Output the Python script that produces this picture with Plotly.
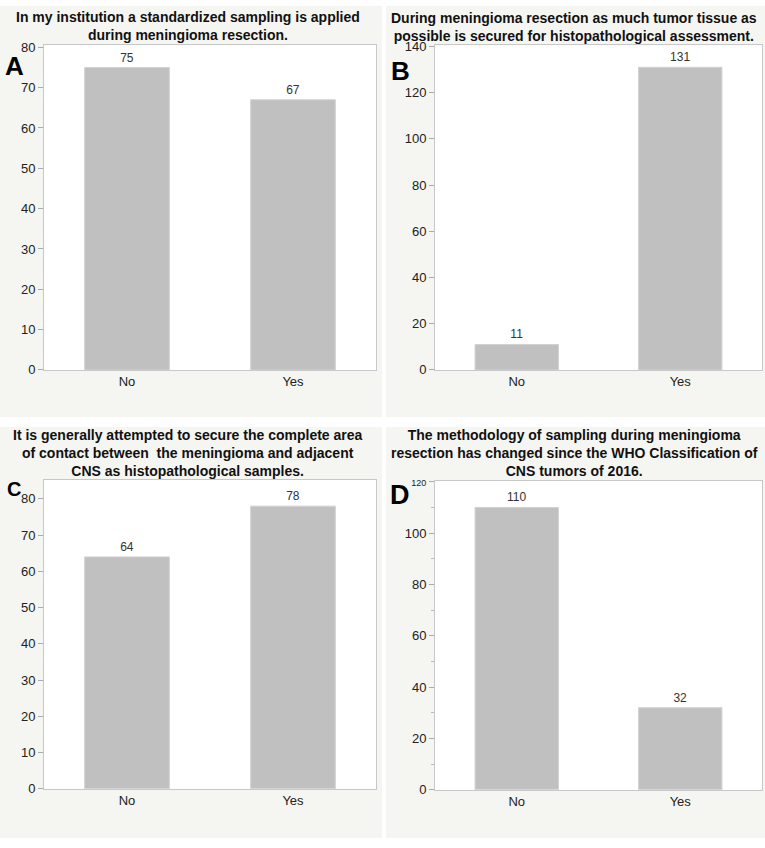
import plotly.graph_objects as go

W, H = 765, 848

categories = ["No", "Yes"]
values_a = [75, 67]
values_b = [11, 131]
values_c = [64, 78]
values_d = [110, 32]

titles = [
    "In my institution a standardized sampling is applied<br>during meningioma resection.",
    "During meningioma resection as much tumor tissue as<br>possible is secured for histopathological assessment.",
    "It is generally attempted to secure the complete area<br>of contact between  the meningioma and adjacent<br>CNS as histopathological samples.",
    "The methodology of sampling during meningioma<br>resection has changed since the WHO Classification of<br>CNS tumors of 2016.",
]
letters = ["A", "B", "C", "D"]
ranges = [[0, 80.5], [0, 140.5], [0, 85.2], [0, 120.3]]
tickvals_list = [[0, 10, 20, 30, 40, 50, 60, 70, 80],
                 [0, 20, 40, 60, 80, 100, 120, 140],
                 [0, 10, 20, 30, 40, 50, 60, 70, 80],
                 [0, 20, 40, 60, 80, 100, 120]]
ticktext_list = [[str(v) for v in tv] for tv in tickvals_list]
ticktext_list[3][-1] = "<span style='font-size:9px'>120</span>"

# pixel layout (x0, x1, ytop, ybottom) of plot areas
plots = [(44, 376, 40, 370), (435, 762, 40, 370), (44, 376, 482, 796), (435, 762, 483, 797)]
panels = [(0, 382, 0, 418), (386, 765, 0, 418), (0, 382, 428, 846), (386, 765, 428, 846)]
title_pos = [(188, 20), (574, 21), (188, 454), (574, 454)]
letter_pos = [(14, 61, 26), (400, 66, 26), (14, 491, 20), (400, 497, 27)]

def px(x):
    return x / W

def py(y):
    return 1 - y / H

fig = go.Figure()
shapes = []
annotations = []
series = [values_a, values_b, values_c, values_d]
for i in range(4):
    n = "" if i == 0 else str(i + 1)
    x0, x1, yt, yb = plots[i]
    fig.add_trace(go.Bar(
        x=categories, y=series[i], xaxis="x" + n, yaxis="y" + n,
        marker=dict(color="#c0c0c0", line=dict(color="#d2d2d2", width=1)),
        text=[str(v) for v in series[i]], textposition="outside",
        outsidetextfont=dict(size=12, color="#333333", family="Liberation Sans, Arial"),
        cliponaxis=False, showlegend=False,
    ))
    yax = dict(domain=[py(yb), py(yt)], range=ranges[i], anchor="x" + n,
               tickmode="array", tickvals=tickvals_list[i], ticktext=ticktext_list[i],
               showgrid=False, zeroline=False, showline=True, linecolor="#c8c8c8", mirror=True,
               ticks="outside", ticklen=5, tickcolor="#aaaaaa",
               tickfont=dict(size=13, color="#222222", family="Liberation Sans, Arial"))
    if i == 3:
        yax["minor"] = dict(ticks="outside", ticklen=3, tickcolor="#bbbbbb", dtick=10, tick0=0)
    xax = dict(domain=[px(x0), px(x1)], anchor="y" + n, showgrid=False, showline=True,
               linecolor="#c8c8c8", mirror=True, ticks="",
               tickfont=dict(size=13, color="#222222", family="Liberation Sans, Arial"))
    fig.update_layout(**{"xaxis" + n: xax, "yaxis" + n: yax})
    p = panels[i]
    shapes.append(dict(type="rect", xref="paper", yref="paper", x0=px(p[0]), x1=px(p[1]),
                       y0=py(p[3]), y1=py(p[2]), fillcolor="#f5f5f1", line=dict(width=0), layer="below"))
    shapes.append(dict(type="rect", xref="paper", yref="paper", x0=px(x0), x1=px(x1),
                       y0=py(yb), y1=py(yt), fillcolor="#ffffff", line=dict(width=0), layer="below"))
    tx, ty = title_pos[i]
    annotations.append(dict(text="<b>" + titles[i] + "</b>", xref="paper", yref="paper",
                            x=px(tx), y=py(ty), xanchor="center", yanchor="middle", showarrow=False,
                            font=dict(size=14, color="#111111", family="Liberation Sans, Arial")))
    lx, ly, ls = letter_pos[i]
    annotations.append(dict(text="<b>" + letters[i] + "</b>", xref="paper", yref="paper",
                            x=px(lx), y=py(ly), xanchor="center", yanchor="middle", showarrow=False,
                            font=dict(size=ls, color="#000000", family="Liberation Sans, Arial")))

fig.update_layout(width=W, height=H, margin=dict(l=0, r=0, t=0, b=0),
                  paper_bgcolor="#ffffff", plot_bgcolor="rgba(0,0,0,0)",
                  bargap=0.49, shapes=shapes, annotations=annotations)
fig.write_html("out.html", config={"displayModeBar": False},
               post_script="document.body.style.margin='0';document.body.style.overflow='hidden';")
